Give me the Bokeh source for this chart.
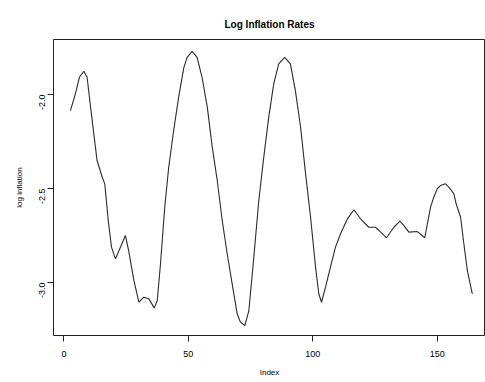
import math
from bokeh.plotting import figure
from bokeh.models import Range1d, FixedTicker, CustomJSTickFormatter
from bokeh.embed import file_html
from bokeh.resources import INLINE

# Data
index = [2.6, 4.6, 6.2, 8.0, 9.3, 10.7, 12.0, 13.3, 15.4, 16.4, 17.8, 19.1, 20.7,
         22.7, 24.7, 26.0, 28.1, 30.1, 32.1, 34.1, 36.3, 37.5, 38.8, 40.5, 42.1,
         44.1, 46.1, 48.2, 49.5, 51.5, 53.5, 55.5, 57.6, 59.6, 61.6, 63.6, 65.6,
         67.6, 69.6, 70.9, 72.7, 74.3, 76.3, 78.3, 80.3, 82.3, 84.3, 86.3, 88.7,
         91.0, 93.0, 95.1, 97.1, 99.1, 101.1, 102.4, 103.5, 105.1, 107.1, 109.1,
         111.5, 114.0, 116.5, 119.2, 122.5, 125.2, 127.3, 129.6, 132.6, 135.0,
         136.6, 138.6, 142.0, 145.0, 147.3, 148.6, 150.0, 151.3, 153.3, 154.7,
         156.7, 157.6, 159.4, 160.7, 162.1, 164.1]
log_inflation = [-2.085, -1.996, -1.908, -1.876, -1.908, -2.067, -2.209, -2.351,
                 -2.44, -2.475, -2.67, -2.812, -2.874, -2.812, -2.75, -2.83, -2.989,
                 -3.105, -3.078, -3.087, -3.135, -3.096, -2.9, -2.6, -2.387, -2.19,
                 -2.014, -1.855, -1.802, -1.77, -1.802, -1.908, -2.067, -2.28, -2.457,
                 -2.67, -2.847, -3.007, -3.166, -3.211, -3.229, -3.15, -2.865, -2.564,
                 -2.333, -2.12, -1.943, -1.837, -1.802, -1.837, -1.979, -2.174, -2.422,
                 -2.653, -2.918, -3.06, -3.105, -3.025, -2.918, -2.812, -2.73, -2.66,
                 -2.613, -2.661, -2.706, -2.706, -2.732, -2.762, -2.706, -2.674,
                 -2.697, -2.732, -2.729, -2.762, -2.6, -2.546, -2.502, -2.484, -2.475,
                 -2.493, -2.528, -2.581, -2.653, -2.794, -2.936, -3.06]
x_ticks = [0, 50, 100, 150]
y_ticks = [-3.0, -2.5, -2.0]

FONT = "Liberation Sans"
INK = "black"

p = figure(width=485, height=382, output_backend="svg", toolbar_location=None,
           x_range=Range1d(-4.2, 169.4), y_range=Range1d(-3.282, -1.707),
           min_border_left=53, min_border_right=0, min_border_top=39,
           min_border_bottom=47, title="Log Inflation Rates")

p.title.text_font = FONT
p.title.text_font_size = "10px"
p.title.text_font_style = "bold"
p.title.align = "center"
p.title.text_color = INK
p.title.standoff = 20

p.line(index, log_inflation, line_color="#2b2b2b", line_width=1.1)

p.grid.visible = False
p.outline_line_color = "#222222"
p.outline_line_width = 1
p.background_fill_color = "white"
p.border_fill_color = "white"

for ax in (p.xaxis[0], p.yaxis[0]):
    ax.axis_line_color = None
    ax.major_tick_out = 6
    ax.major_tick_in = 0
    ax.minor_tick_line_color = None
    ax.major_tick_line_color = "#222222"
    ax.major_label_text_font = FONT
    ax.major_label_text_font_size = "9px"
    ax.major_label_text_color = INK
    ax.axis_label_text_font = FONT
    ax.axis_label_text_font_size = "8px"
    ax.axis_label_text_font_style = "normal"
    ax.axis_label_text_color = INK

p.xaxis[0].ticker = FixedTicker(ticks=x_ticks)
p.xaxis[0].major_label_standoff = 9
p.xaxis[0].axis_label = "Index"
p.xaxis[0].axis_label_standoff = 8

p.yaxis[0].ticker = FixedTicker(ticks=y_ticks)
p.yaxis[0].formatter = CustomJSTickFormatter(code="return tick.toFixed(1);")
p.yaxis[0].major_label_orientation = math.pi / 2
p.yaxis[0].major_label_standoff = 5
p.yaxis[0].axis_label = "log inflation"
p.yaxis[0].axis_label_standoff = 10

open("out.html", "w").write(file_html(p, INLINE))
